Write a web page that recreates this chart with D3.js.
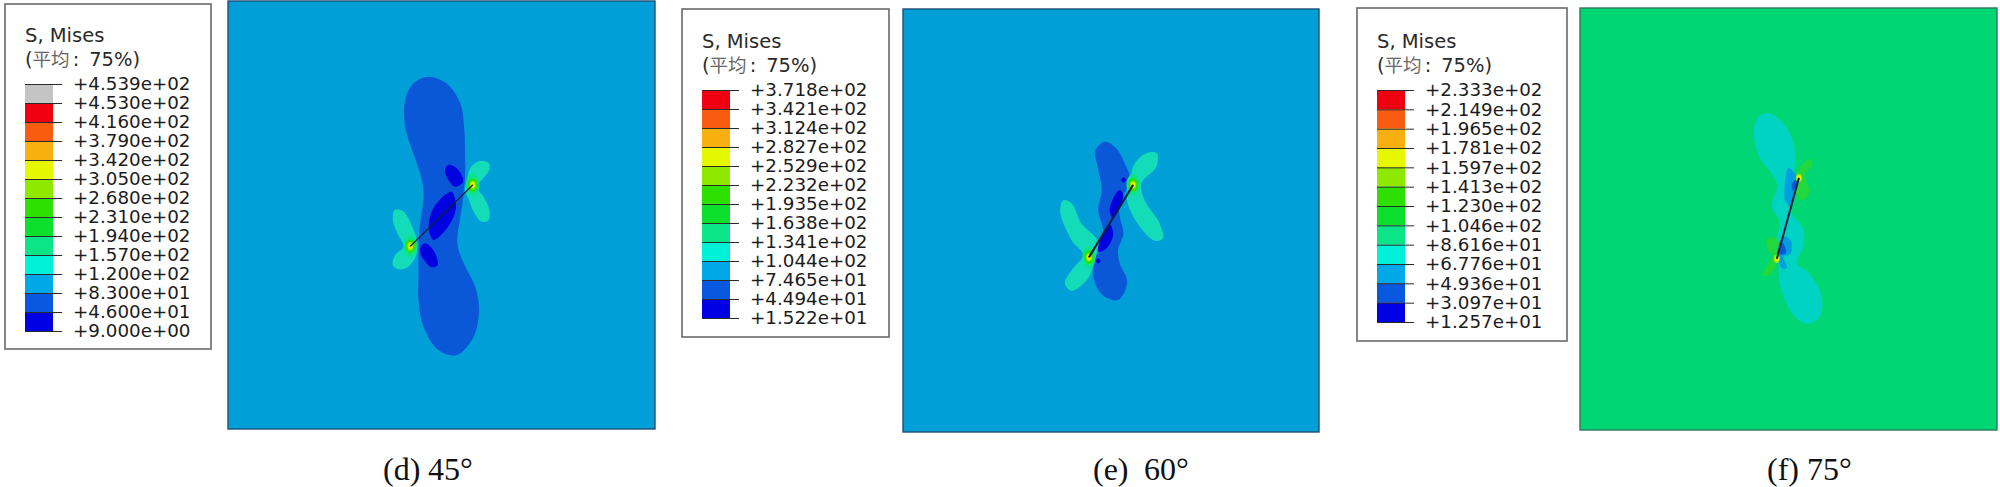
<!DOCTYPE html>
<html>
<head>
<meta charset="utf-8">
<script src="https://d3js.org/d3.v7.min.js"></script>
<style>
html, body { margin: 0; padding: 0; background: #fff; }
svg { display: block; }
</style>
</head>
<body>
<script>
// legend values, top to bottom
var values45 = [453.9, 453.0, 416.0, 379.0, 342.0, 305.0, 268.0, 231.0, 194.0, 157.0, 120.0, 83.0, 46.0, 9.0];
var values60 = [371.8, 342.1, 312.4, 282.7, 252.9, 223.2, 193.5, 163.8, 134.1, 104.4, 74.65, 44.94, 15.22];
var values75 = [233.3, 214.9, 196.5, 178.1, 159.7, 141.3, 123.0, 104.6, 86.16, 67.76, 49.36, 30.97, 12.57];

var bandColors = ["#ee0010", "#f85c10", "#f8b010", "#e6f800", "#8ee800", "#2ee000", "#0ce02c", "#0ce488", "#00f0d8", "#00a8e8", "#0858e0", "#0000e4"];
var overColor = "#c4c4c4";

var letters = ["(d)", "(e)", "(f)"];
var angles = ["45°", "60°", "75°"];

// contour outlines, in percent of the plate width / height
var lobe45 = [[47,17.7],[51.2,19.3],[54.4,23.9],[55.3,29.4],[55.5,34.8],[55.5,41],[55.2,44.6],[54.8,48.1],[54.3,51.2],[53.7,56.6],[55.2,61.3],[57.9,66.8],[58.8,72.2],[57.5,78.5],[53.6,82.7],[49.3,81.6],[45.8,76.1],[44.6,69.9],[44.6,63.7],[44.6,58.2],[45,52],[45.8,46],[45.6,43],[45,40.3],[43.4,35.6],[41.5,29.4],[41.5,23.1],[43.4,19.3]];
var core45 = [[52.4,44.6],[53.4,48.1],[51.6,52.7],[48.1,55.8],[47,52.7],[48.1,48.4],[50.8,45.3]];
var spotUp45 = [[51.6,38.3],[53.6,39.1],[55.1,42.2],[53.2,43.4],[51.4,41.4],[50.8,39.5]];
var spotLow45 = [[46.1,56.6],[48.1,58.2],[49.1,61.7],[47.7,62.2],[45.4,59.7],[45,57.8]];
var wingUp45 = [[55.9,42.2],[56.7,39.1],[58.6,37.5],[61,37.8],[61.2,39.5],[59.4,41.8],[58.1,43.4],[59.8,45.7],[61.2,48.8],[61,51.2],[59.4,51.6],[57.5,49.2],[56.3,46.1],[55.5,44.2]];
var wingLow45 = [[39.1,48.8],[41.1,49.2],[43,52.4],[44.2,55.9],[44.2,59],[42.2,62.1],[39.9,62.7],[38.6,61.7],[39.1,59.4],[41.1,57.4],[39.9,54.7],[38.6,51.2]];
var tips45 = [[57.3,43],[42.7,57.3]];

var lobe60 = [[48.5,31.4],[51.3,33],[53.3,36.5],[54.5,39.6],[54.1,42],[52.1,45.2],[52.1,49.1],[53,53],[51.7,57],[52.1,60.1],[53.9,64.5],[51.7,68.8],[47.8,67.5],[45.8,63.5],[46.1,59.3],[47.3,55.4],[48.1,52.2],[46.9,47.5],[47.8,42.8],[46.8,37.3],[46.2,33.5]];
var wingUp60 = [[58.5,34.1],[61,34.1],[60.9,37.3],[57.3,41.2],[58.1,45.2],[61.7,50.7],[62.5,54.2],[60.5,54.8],[56.1,50.3],[53.8,44.8],[54.5,40.8],[55.7,36.5]];
var wingLow60 = [[38.5,45.2],[40.5,45.9],[42.9,50.7],[46.9,55],[45.8,60.1],[44.5,63.7],[40.5,66.6],[38.9,64.9],[40.9,61.3],[43.3,58.2],[40.5,54.6],[37.8,48]];
var coreUp60 = [[52.1,42.8],[53,44],[50.5,49.5],[49.7,47.9],[50.5,44.8]];
var coreLow60 = [[49.8,51],[50.5,53.4],[48.9,56.6],[46.9,57.4],[47.3,55]];
var spotUp60 = [[53,39.8],[53.6,40.4],[53,41],[52.4,40.4]];
var spotLow60 = [[46.9,59],[47.5,59.6],[46.9,60.2],[46.3,59.6]];
var tips60 = [[55.3,41.6],[44.7,58.7]];

var lobe75 = [[44.8,24.9],[48.8,27.3],[51.2,32],[51.6,36.7],[50.8,41.5],[50.8,48.5],[53.6,52.5],[53.6,56.4],[52,60.4],[54.8,62.7],[57.9,68.2],[57.5,73],[54.4,74.9],[50.8,72.2],[48,65.9],[47.6,61.1],[46.8,55.6],[48,50.9],[46,47],[47.2,41.5],[42.9,35.1],[41.7,29.6],[42.5,26.1]];
var blueUp75 = [[50,37.9],[52,39.9],[52,42.2],[50.4,47],[49.1,45.4],[49.1,42.2]];
var blueLow75 = [[48.8,54.1],[50.6,55.2],[50.4,58.4],[48.8,58.8],[49.6,61.5],[48.8,61.9],[47.2,58.8]];
var greenUp75 = [[55,35.8],[55.8,37],[54,39.5],[55,43.8],[53.4,45.5],[52,44.6],[52.2,38.7]];
var greenLow75 = [[44.8,54.8],[47.2,54.5],[47.6,59.6],[45.2,63.5],[43.7,63.1],[45.2,60.4],[46.2,58.8],[44.8,56.8]];
var deepUp75 = [[52.2,40.3],[51.2,43.4],[50.8,41.8]];
var deepLow75 = [[48.6,55.6],[49.4,58],[48,58.4]];
var tips75 = [[52.5,40.3],[47.2,59.4]];

// size of the contours round a crack tip, outer to inner
var ringRx = [1.6, 1.1, 0.75, 0.5, 0.25];
var ringRy = [2.6, 1.6, 1.0, 0.65, 0.3];
var ringColors = ["#0ce488", "#2ee000", "#8ee800", "#e6f800", "#f8b010"];

var width = 2000, height = 487;

var svg = d3.select("body")
    .append("svg")
    .attr("width", width)
    .attr("height", height);

function fmt(v) {
    // abaqus style, always two exponent digits
    var s = d3.format("+.3e")(v);
    return s.replace(/e\+(\d)$/, "e+0$1");
}

function drawLegend(values, colors, box, barLeft, barTop, barBottom) {
    var g = svg.append("g");

    g.append("rect")
        .attr("x", box[0])
        .attr("y", box[1])
        .attr("width", box[2] - box[0])
        .attr("height", box[3] - box[1])
        .attr("fill", "#fff")
        .attr("stroke", "#6a6a6a")
        .attr("stroke-width", 1.6);

    var y = d3.scalePoint()
        .domain(d3.range(values.length))
        .range([barTop, barBottom]);

    g.selectAll("rect.band")
        .data(colors)
        .enter()
        .append("rect")
        .attr("class", "band")
        .attr("x", barLeft)
        .attr("y", function (d, i) { return y(i); })
        .attr("width", 28)
        .attr("height", y.step())
        .attr("fill", function (d) { return d; });

    var axis = d3.axisRight(y)
        .tickSize(37)
        .tickPadding(11)
        .tickFormat(function (i) { return fmt(values[i]); });

    var ag = g.append("g")
        .attr("transform", "translate(" + barLeft + ",0)")
        .call(axis);

    ag.select(".domain").remove();
    ag.selectAll(".tick line").attr("stroke", "#2a2a2a").attr("stroke-width", 1);
    ag.selectAll(".tick text")
        .attr("fill", "#1c1c1c")
        .attr("font-family", "DejaVu Sans")
        .attr("font-size", 18.3);

    g.append("text")
        .attr("x", barLeft)
        .attr("y", barTop - 42)
        .attr("font-family", "DejaVu Sans")
        .attr("font-size", 19.5)
        .attr("fill", "#2a2a2a")
        .text("S, Mises");

    var sub = g.append("text")
        .attr("x", barLeft)
        .attr("y", barTop - 18)
        .attr("font-family", "DejaVu Sans")
        .attr("font-size", 19.5)
        .attr("fill", "#2a2a2a");
    sub.append("tspan").text("(");
    sub.append("tspan")
        .attr("font-family", "Noto Sans CJK SC")
        .attr("font-size", 18.5)
        .attr("fill", "#666")
        .text("平均");
    sub.append("tspan").attr("dx", 3).text(":");
    sub.append("tspan").attr("dx", 10).text("75%)");
}

function drawPlate(frame, background, edge, regions, tips, crackWidth, ringStart, ringScale) {
    var g = svg.append("g");

    var x = d3.scaleLinear().domain([0, 100]).range([frame[0], frame[2]]);
    var y = d3.scaleLinear().domain([0, 100]).range([frame[1], frame[3]]);

    g.append("rect")
        .attr("x", x(0))
        .attr("y", y(0))
        .attr("width", x(100) - x(0))
        .attr("height", y(100) - y(0))
        .attr("fill", background)
        .attr("stroke", edge)
        .attr("stroke-width", 1.4);

    var outline = d3.line()
        .x(function (d) { return x(d[0]); })
        .y(function (d) { return y(d[1]); })
        .curve(d3.curveCatmullRomClosed.alpha(0.5));

    g.selectAll("path.region")
        .data(regions)
        .enter()
        .append("path")
        .attr("class", "region")
        .attr("d", function (d) { return outline(d.points); })
        .attr("fill", function (d) { return d.color; });

    ringColors.forEach(function (c, i) {
        if (i < ringStart) return;
        g.selectAll("ellipse.ring" + i)
            .data(tips)
            .enter()
            .append("ellipse")
            .attr("class", "ring" + i)
            .attr("cx", function (d) { return x(d[0]); })
            .attr("cy", function (d) { return y(d[1]); })
            .attr("rx", (x(ringRx[i]) - x(0)) * ringScale)
            .attr("ry", (y(ringRy[i]) - y(0)) * ringScale)
            .attr("fill", c);
    });

    g.append("path")
        .attr("d", d3.line().x(function (d) { return x(d[0]); }).y(function (d) { return y(d[1]); })(tips))
        .attr("fill", "none")
        .attr("stroke", "#10203a")
        .attr("stroke-width", crackWidth);
}

var wingColor = "#14dcb8", lobeColor = "#0a58d8", deepColor = "#0000e0";

drawLegend(values45, [overColor].concat(bandColors), [5, 4, 211, 349], 25, 84, 331);
drawPlate([228, 1, 655, 429], "#009fd8", "#1f4f78", [
    { points: lobe45, color: lobeColor },
    { points: wingUp45, color: wingColor },
    { points: wingLow45, color: wingColor },
    { points: core45, color: deepColor },
    { points: spotUp45, color: deepColor },
    { points: spotLow45, color: deepColor }
], tips45, 1.2, 0, 1);

drawLegend(values60, bandColors, [682, 9, 889, 337], 702, 90, 318);
drawPlate([903, 9, 1319, 432], "#009fd8", "#1f4f78", [
    { points: lobe60, color: lobeColor },
    { points: wingUp60, color: wingColor },
    { points: wingLow60, color: wingColor },
    { points: coreUp60, color: deepColor },
    { points: coreLow60, color: deepColor },
    { points: spotUp60, color: deepColor },
    { points: spotLow60, color: deepColor }
], tips60, 2.2, 0, 1);

drawLegend(values75, bandColors, [1357, 8, 1567, 341], 1377, 90, 322);
drawPlate([1580, 8, 1997, 430], "#00d674", "#2a7a58", [
    { points: lobe75, color: "#00d2c4" },
    { points: greenUp75, color: "#22d83c" },
    { points: greenLow75, color: "#22d83c" },
    { points: blueUp75, color: "#00a0e0" },
    { points: blueLow75, color: "#00a0e0" },
    { points: deepUp75, color: "#0a58d8" },
    { points: deepLow75, color: "#0a58d8" }
], tips75, 2, 2, 1);

// captions
var letterX = [383, 1093, 1767];
var angleX = [428, 1144, 1807];

letters.forEach(function (d, i) {
    svg.append("text")
        .attr("x", letterX[i])
        .attr("y", 480)
        .attr("font-family", "Liberation Serif")
        .attr("font-size", 32)
        .attr("fill", "#111")
        .text(d);
    svg.append("text")
        .attr("x", angleX[i])
        .attr("y", 480)
        .attr("font-family", "Liberation Serif")
        .attr("font-size", 32)
        .attr("fill", "#111")
        .text(angles[i]);
});
</script>
</body>
</html>
